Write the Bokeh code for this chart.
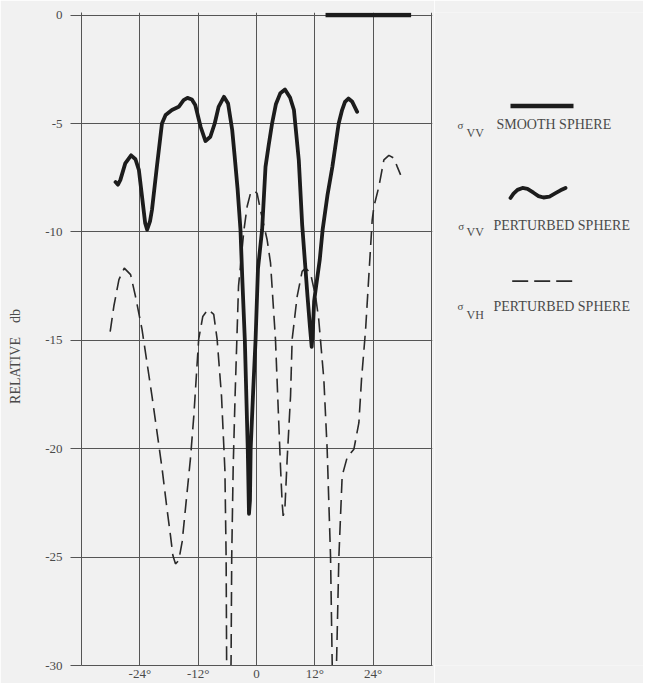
from bokeh.plotting import figure
from bokeh.layouts import row
from bokeh.models import Range1d, FixedTicker
from bokeh.core.properties import value
from bokeh.embed import file_html
from bokeh.resources import INLINE

# ---------------- data ----------------
x_ticks = [-24, -12, 0, 12, 24]
x_tick_labels = ["-24°", "-12°", "0", "12°", "24°"]
y_ticks = [0, -5, -10, -15, -20, -25, -30]
y_tick_labels = ["0", "-5", "-10", "-15", "-20", "-25", "-30"]

# sigma_VV smooth sphere (reference level)
vv_smooth_x = [14.2, 31.8]
vv_smooth_y = [0.0, 0.0]

# sigma_VV perturbed sphere
vv_pert_x = [-29.0, -28.5, -28.0, -27.0, -25.8, -24.9, -24.2, -23.55, -22.9, -22.5,
             -21.9, -21.5, -20.5, -19.45, -18.7, -17.4, -16.0, -15.0, -14.2, -13.3,
             -12.6, -11.5, -10.5, -9.5, -8.6, -7.8, -6.7, -5.85, -5.0, -4.5,
             -3.9, -3.3, -2.9, -2.4, -1.8, -1.55, -1.35, -1.2, -0.7, -0.2,
             0.3, 1.15, 1.85, 2.5, 3.2, 4.0, 4.9, 5.85, 6.9, 7.7,
             8.7, 9.4, 10.0, 10.5, 11.0, 11.35, 11.6, 11.85, 12.2, 13.0,
             13.6, 14.6, 15.6, 16.9, 17.6, 18.2, 18.9, 19.7, 20.7]
vv_pert_y = [-7.70, -7.82, -7.60, -6.84, -6.47, -6.65, -7.14, -8.37, -9.6, -9.9,
             -9.5, -8.98, -7.0, -5.0, -4.61, -4.38, -4.23, -3.92, -3.82, -3.89,
             -4.15, -5.15, -5.81, -5.61, -5.0, -4.23, -3.77, -4.08, -5.3, -6.5,
             -8.0, -9.9, -12.3, -15.0, -20.0, -23.0, -22.4, -20.0, -17.4, -15.0,
             -11.7, -9.9, -7.0, -6.0, -5.0, -4.1, -3.6, -3.43, -3.8, -4.38,
             -6.7, -9.7, -11.5, -13.0, -14.4, -15.3, -14.5, -13.2, -12.6, -11.3,
             -9.9, -8.3, -7.0, -5.0, -4.38, -4.0, -3.85, -4.0, -4.46]

# sigma_VH perturbed sphere (values below -30 run off the chart)
vh_pert_x = [-30.1, -29.35, -28.3, -27.2, -25.9, -24.9, -23.55, -21.5, -19.45, -18.4,
             -17.7, -17.2, -16.67, -16.0, -15.3, -14.5, -13.6, -12.9, -11.9, -11.05,
             -10.0, -8.8, -8.1, -7.2, -6.5, -6.25, -6.15, -6.1, -5.3, -5.23,
             -5.1, -4.8, -4.4, -3.7, -2.6, -1.93, -1.24, -0.56, 0.12, 0.95,
             2.18, 2.88, 3.9, 4.94, 5.27, 5.48, 5.83, 6.3, 7.0, 7.33,
             8.36, 9.39, 10.09, 11.1, 12.15, 12.8, 13.5, 13.85, 14.53, 15.23,
             15.56, 15.65, 16.4, 16.47, 16.94, 17.62, 18.65, 20.03, 21.06, 21.6,
             22.44, 23.8, 24.15, 25.17, 26.2, 27.23, 28.26, 28.94, 29.64]
vh_pert_y = [-14.6, -13.43, -12.2, -11.67, -11.97, -12.97, -14.5, -17.57, -20.87, -22.8,
             -24.0, -24.93, -25.31, -25.16, -24.3, -22.5, -20.48, -18.5, -14.96, -13.9,
             -13.58, -13.8, -14.96, -17.57, -21.0, -25.0, -29.7, -31.0, -31.0, -29.7,
             -25.0, -20.87, -17.5, -12.5, -9.94, -8.83, -8.22, -8.1, -8.22, -9.14,
             -10.36, -11.43, -14.96, -20.87, -22.48, -23.1, -22.8, -20.5, -17.57, -14.96,
             -12.97, -11.82, -11.67, -11.9, -12.97, -14.04, -15.88, -16.8, -20.02, -25.0,
             -29.8, -31.0, -31.0, -29.8, -25.0, -21.25, -20.4, -20.02, -18.8, -16.8,
             -14.5, -9.44, -8.83, -7.91, -6.68, -6.47, -6.6, -6.99, -7.37]

legend_main = ["SMOOTH SPHERE", "PERTURBED SPHERE", "PERTURBED SPHERE"]
legend_sub = ["VV", "VV", "VH"]

# ---------------- style ----------------
BG = "#f1f1f1"
GRID = "#555555"
INK = "#1c1c1c"
TXT = "#4a4a4a"
FONT = "Liberation Serif"

p = figure(width=434, height=683,
           x_range=Range1d(-36, 36.2), y_range=Range1d(-30, 0.12),
           output_backend="svg", toolbar_location=None,
           min_border_left=81, min_border_right=2, min_border_top=12, min_border_bottom=16,
           background_fill_color=BG, border_fill_color=BG, outline_line_color=None)

# axes
p.xaxis.ticker = FixedTicker(ticks=x_ticks)
p.xaxis.major_label_overrides = {t: l for t, l in zip(x_ticks, x_tick_labels)}
p.yaxis.ticker = FixedTicker(ticks=y_ticks)
p.yaxis.major_label_overrides = {t: l for t, l in zip(y_ticks, y_tick_labels)}
p.xaxis.major_tick_out = 0
p.xaxis.major_tick_in = 0
p.xaxis.minor_tick_line_color = None
p.xaxis.major_label_standoff = 0
p.yaxis.major_tick_out = 11
p.yaxis.major_tick_in = 0
p.yaxis.minor_tick_line_color = None
p.yaxis.major_label_standoff = 8
for ax in (p.xaxis, p.yaxis):
    ax.axis_line_color = GRID
    ax.major_tick_line_color = GRID
    ax.major_label_text_font = FONT
    ax.major_label_text_font_size = "13px"
    ax.major_label_text_color = TXT
p.yaxis.axis_label = "RELATIVE\u00a0\u00a0\u00a0\u00a0db" + "\u00a0" * 10
p.yaxis.axis_label_text_font = FONT
p.yaxis.axis_label_text_font_style = "normal"
p.yaxis.axis_label_text_font_size = "14px"
p.yaxis.axis_label_text_color = TXT
p.yaxis.axis_label_standoff = 19

p.xgrid.ticker = FixedTicker(ticks=[-24, -12, 0, 12, 24, 36])
p.ygrid.ticker = FixedTicker(ticks=y_ticks)
p.grid.grid_line_color = GRID
p.grid.grid_line_width = 1

# curves
p.line(vh_pert_x, vh_pert_y, line_color="#2a2a2a", line_width=1.6, line_dash="14 7")
p.line(vv_pert_x, vv_pert_y, line_color=INK, line_width=3.8, line_join="round", line_cap="round")
p.line(vv_smooth_x, vv_smooth_y, line_color=INK, line_width=4.5)

# ---------------- legend panel ----------------
lg = figure(width=209, height=683, x_range=Range1d(0, 209), y_range=Range1d(683, 0),
            output_backend="svg", toolbar_location=None,
            x_axis_location=None, y_axis_location=None, min_border=0,
            background_fill_color=BG, border_fill_color=BG, outline_line_color=None)
lg.grid.visible = False

# samples
lg.line([76, 139], [97.7, 97.7], line_color=INK, line_width=4.5)
lg.line([76, 79, 83, 88, 93, 99, 104, 109, 115, 121, 126, 131],
        [194, 189.5, 185.5, 183.5, 184.5, 188.5, 192, 193.5, 192.5, 189, 186, 183.5],
        line_color=INK, line_width=3.8, line_cap="round", line_join="round")
lg.line([77.7, 138.7], [281, 281], line_color="#2a2a2a", line_width=1.6, line_dash="16 6")

sig_x = [26, 26.7, 26]
sig_y = [118, 223.3, 306.7]
sub_x = [32, 32, 32]
sub_y = [126, 230, 316]
txt_x = [62, 59, 59]
txt_y = [117.5, 222.7, 307.3]
lg.text(x=sig_x, y=sig_y, text=["σ"] * 3, text_font=value(FONT), text_font_size="11px",
        text_color=TXT, text_align="center", text_baseline="middle")
lg.text(x=sub_x, y=sub_y, text=legend_sub, text_font=value(FONT), text_font_size="12px",
        text_color=TXT, text_align="left", text_baseline="middle")
lg.text(x=txt_x, y=txt_y, text=legend_main, text_font=value(FONT), text_font_size="14px",
        text_color=TXT, text_align="left", text_baseline="middle")

layout = row(p, lg)
open("out.html", "w").write(file_html(layout, INLINE))
